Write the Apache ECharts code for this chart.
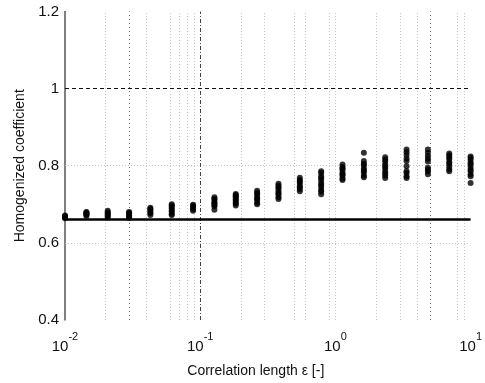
<!DOCTYPE html>
<html>
<head>
<meta charset="utf-8">
<script src="https://cdn.jsdelivr.net/npm/echarts@6/dist/echarts.min.js"></script>
<style>html,body{margin:0;padding:0;background:#fff;}#chart{width:485px;height:383px;}</style>
</head>
<body>
<div id="chart"></div>
<script>
// Correlation lengths (x positions of the sample columns)
const correlationLengths = [0.01, 0.0144, 0.0207, 0.0298, 0.0428, 0.0616, 0.0886, 0.1274, 0.1833, 0.2637,
  0.3793, 0.5456, 0.7848, 1.1288, 1.6238, 2.3357, 3.3598, 4.8329, 6.9519, 10];
// Homogenized coefficient samples for each correlation length
const coefficientSamples = [
  [0.664, 0.666, 0.668, 0.669, 0.671],
  [0.670, 0.673, 0.675, 0.676, 0.679, 0.680],
  [0.666, 0.670, 0.672, 0.676, 0.679, 0.683],
  [0.665, 0.667, 0.671, 0.675, 0.678, 0.680],
  [0.672, 0.677, 0.680, 0.685, 0.688, 0.691],
  [0.672, 0.675, 0.681, 0.684, 0.689, 0.693, 0.697, 0.700],
  [0.683, 0.688, 0.691, 0.696, 0.699],
  [0.686, 0.695, 0.698, 0.703, 0.705, 0.711, 0.714, 0.718],
  [0.697, 0.702, 0.705, 0.710, 0.713, 0.718, 0.721, 0.724, 0.727],
  [0.700, 0.704, 0.711, 0.715, 0.719, 0.726, 0.730, 0.735],
  [0.714, 0.718, 0.725, 0.729, 0.733, 0.740, 0.744, 0.748, 0.753],
  [0.734, 0.740, 0.744, 0.748, 0.755, 0.759, 0.763, 0.769],
  [0.726, 0.733, 0.737, 0.745, 0.750, 0.755, 0.763, 0.768, 0.773, 0.781, 0.786],
  [0.763, 0.767, 0.774, 0.778, 0.782, 0.789, 0.793, 0.797, 0.803],
  [0.770, 0.775, 0.783, 0.788, 0.793, 0.801, 0.805, 0.812, 0.834],
  [0.768, 0.775, 0.780, 0.785, 0.793, 0.798, 0.803, 0.811, 0.816, 0.822],
  [0.768, 0.773, 0.781, 0.786, 0.799, 0.812, 0.819, 0.828, 0.835, 0.842],
  [0.778, 0.785, 0.790, 0.795, 0.811, 0.818, 0.825, 0.834, 0.842],
  [0.786, 0.791, 0.798, 0.805, 0.809, 0.817, 0.822, 0.827, 0.832],
  [0.755, 0.773, 0.778, 0.786, 0.790, 0.797, 0.804, 0.808, 0.815, 0.820, 0.824]
];
// Reference levels
const lowerBound = 0.66;
const upperBound = 1.0;
// Grid helpers
const yGridValues = [0.6, 0.8];
const xMinorGrid = [0.02, 0.04, 0.06, 0.07, 0.08, 0.09, 0.2, 0.3, 0.5, 0.6, 0.9, 1, 2, 3, 4, 8, 9];
const xDarkGrid = [0.03, 5];
const xDashGrid = [0.1];

const points = [];
correlationLengths.forEach((x, i) => coefficientSamples[i].forEach(y => points.push([x, y])));

const FONT = 'Liberation Sans, Arial, sans-serif';
const chart = echarts.init(document.getElementById('chart'));
chart.setOption({
  animation: false,
  backgroundColor: '#fff',
  grid: { left: 65, right: 9, top: 11.5, bottom: 57.5 },
  xAxis: {
    type: 'log', logBase: 10, min: 0.01, max: 10,
    axisLine: { show: false },
    axisTick: { show: false },
    splitLine: { show: false },
    axisLabel: {
      margin: 11,
      formatter: v => '{b|10}{e|' + Math.round(Math.log10(v)) + '}',
      rich: {
        b: { fontSize: 15, fontFamily: FONT, color: '#111', lineHeight: 23, verticalAlign: 'bottom' },
        e: { fontSize: 11, fontFamily: FONT, color: '#111', lineHeight: 12, verticalAlign: 'top' }
      }
    },
    name: 'Correlation length \u03b5 [-]',
    nameLocation: 'middle', nameGap: 44,
    nameTextStyle: { fontSize: 14, fontFamily: FONT, color: '#111', padding: [0, 24, 0, 0] }
  },
  yAxis: {
    type: 'value', min: 0.4, max: 1.2, interval: 0.2,
    axisLine: { show: true, lineStyle: { color: '#555', width: 1.5 } },
    axisTick: { show: false },
    splitLine: { show: false },
    axisLabel: {
      margin: 6, fontSize: 15, fontFamily: FONT, color: '#111',
      formatter: v => String(+v.toFixed(1))
    },
    name: 'Homogenized coefficient',
    nameLocation: 'middle', nameGap: 38,
    nameTextStyle: { fontSize: 14, fontFamily: FONT, color: '#111' }
  },
  series: [
    {
      type: 'line', data: [], silent: true,
      markLine: {
        silent: true, symbol: 'none', label: { show: false },
        lineStyle: { color: '#c8c8c8', type: [1, 2], width: 1 },
        data: xMinorGrid.map(x => ({ xAxis: x })).concat(yGridValues.map(y => ({ yAxis: y })))
      }
    },
    {
      type: 'line', data: [], silent: true,
      markLine: {
        silent: true, symbol: 'none', label: { show: false },
        lineStyle: { color: '#666', type: [1, 3], width: 1 },
        data: xDarkGrid.map(x => ({ xAxis: x }))
      }
    },
    {
      type: 'line', data: [], silent: true,
      markLine: {
        silent: true, symbol: 'none', label: { show: false },
        lineStyle: { color: '#444', type: [4, 2, 1, 2], width: 1 },
        data: xDashGrid.map(x => ({ xAxis: x }))
      }
    },
    {
      type: 'line', data: [], silent: true,
      markLine: {
        silent: true, symbol: 'none', label: { show: false },
        data: [
          { yAxis: upperBound, lineStyle: { color: '#111', type: [4, 3], width: 1 } },
          { yAxis: lowerBound, lineStyle: { color: '#000', type: 'solid', width: 2.5 } }
        ]
      }
    },
    {
      type: 'scatter', data: points, symbol: 'circle', symbolSize: 6,
      itemStyle: { color: '#000' }, z: 5
    }
  ]
});
</script>
</body>
</html>
